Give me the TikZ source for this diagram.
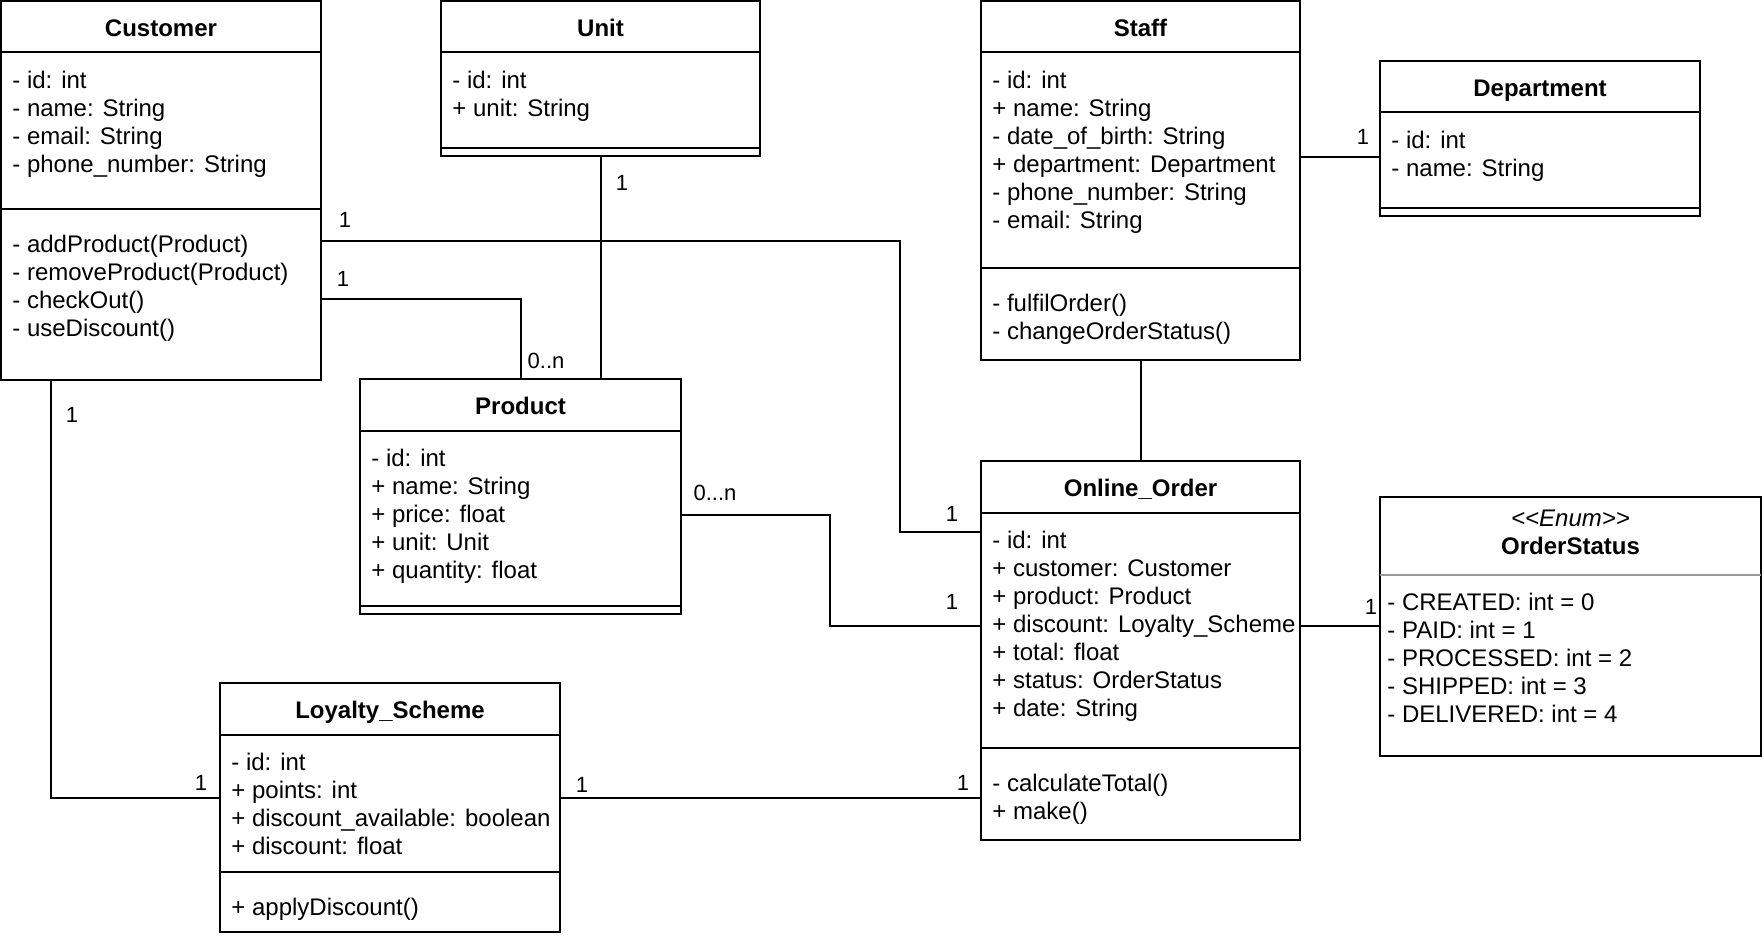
\documentclass[tikz,border=0pt]{standalone}
\usepackage{fontspec}
\setmainfont{Liberation Sans}
\usetikzlibrary{calc}

\begin{document}
\begin{tikzpicture}[
    x=0.5pt,
    y=-0.5pt,
    classbox/.style={
        rectangle,
        draw=black,
        line width=1pt,
        inner sep=0pt,
        outer sep=0pt,
        anchor=north west
    },
    sepline/.style={
        draw=black,
        line width=1pt
    },
    title/.style={
        anchor=base,
        inner sep=0pt,
        font=\fontsize{12}{14}\selectfont\bfseries
    },
    member/.style={
        anchor=base west,
        inner sep=0pt,
        font=\fontsize{12}{14}\selectfont
    },
    mult/.style={
        inner sep=0pt,
        font=\fontsize{11}{13}\selectfont
    },
    assoc/.style={
        draw=black,
        line width=1pt
    }
]
    \useasboundingbox (0,0) rectangle (1764,938);

    % class boxes
    \node [classbox, minimum width=160pt, minimum height=189.5pt] (customer) at (1,1) {};
    \node [classbox, minimum width=159.5pt, minimum height=77.5pt] (unit) at (441,1) {};
    \node [classbox, minimum width=159.5pt, minimum height=179.5pt] (staff) at (981,1) {};
    \node [classbox, minimum width=160pt, minimum height=77.5pt] (department) at (1380,61) {};
    \node [classbox, minimum width=160.5pt, minimum height=117.5pt] (product) at (360,379) {};
    \node [classbox, minimum width=159.5pt, minimum height=189.5pt] (order) at (981,461) {};
    \node [classbox, minimum width=190.5pt, minimum height=129.5pt] (status) at (1380,497) {};
    \node [classbox, minimum width=170pt, minimum height=124.5pt] (loyalty) at (220,683) {};

    % compartments
    \foreach \c/\y in {customer/51, customer/208, unit/51, unit/147, staff/51, staff/267,
                       department/51, department/147, product/52, product/227,
                       order/52, order/287, loyalty/52, loyalty/189}
        \draw [sepline] ($(\c.north west)+(0,\y)$) -- ($(\c.north east)+(0,\y)$);
    \draw [sepline, draw=black!40] ($(status.north west)+(0,78)$) -- ($(status.north east)+(0,78)$);

    % titles
    \node [title] (customer-t) at ($(customer.north)+(0,35)$) {Customer};
    \node [title] (unit-t) at ($(unit.north)+(0,35)$) {Unit};
    \node [title] (staff-t) at ($(staff.north)+(0,35)$) {Staff};
    \node [title] (department-t) at ($(department.north)+(0,35)$) {Department};
    \node [title] (product-t) at ($(product.north)+(0,35)$) {Product};
    \node [title] (order-t) at ($(order.north)+(0,35)$) {Online\_Order};
    \node [title] (loyalty-t) at ($(loyalty.north)+(0,35)$) {Loyalty\_Scheme};
    \node [title, font=\fontsize{12}{14}\selectfont\itshape] (status-s) at ($(status.north)+(0,29)$) {<\kern0pt<Enum>\kern0pt>};
    \node [title] (status-t) at ($(status.north)+(0,57)$) {OrderStatus};

    % attributes
    \foreach \s [count=\i] in {- id: int, - name: String, - email: String, - phone\_number: String}
        \node [member] (customer-a\i) at ($(customer.north west)+(11,59+28*\i)$) {\s};
    \foreach \s [count=\i] in {- id: int, + unit: String}
        \node [member] (unit-a\i) at ($(unit.north west)+(11,59+28*\i)$) {\s};
    \foreach \s [count=\i] in {- id: int, + name: String, - date\_of\_birth: String,
                               + department: Department, - phone\_number: String, - email: String}
        \node [member] (staff-a\i) at ($(staff.north west)+(11,59+28*\i)$) {\s};
    \foreach \s [count=\i] in {- id: int, - name: String}
        \node [member] (department-a\i) at ($(department.north west)+(11,59+28*\i)$) {\s};
    \foreach \s [count=\i] in {- id: int, + name: String, + price: float, + unit: Unit, + quantity: float}
        \node [member] (product-a\i) at ($(product.north west)+(11,59+28*\i)$) {\s};
    \foreach \s [count=\i] in {- id: int, + customer: Customer, + product: Product,
                               + discount: Loyalty\_Scheme, + total: float,
                               + status: OrderStatus, + date: String}
        \node [member] (order-a\i) at ($(order.north west)+(11,59+28*\i)$) {\s};
    \foreach \s [count=\i] in {- id: int, + points: int, + discount\_available: boolean, + discount: float}
        \node [member] (loyalty-a\i) at ($(loyalty.north west)+(11,59+28*\i)$) {\s};
    \foreach \s [count=\i] in {- CREATED: int = 0, - PAID: int = 1, - PROCESSED: int = 2,
                               - SHIPPED: int = 3, - DELIVERED: int = 4}
        \node [member] (status-a\i) at ($(status.north west)+(7,85+28*\i)$) {\s};

    % operations
    \foreach \s [count=\i] in {- addProduct(Product), - removeProduct(Product), - checkOut(), - useDiscount()}
        \node [member] (customer-m\i) at ($(customer.north west)+(11,223+28*\i)$) {\s};
    \foreach \s [count=\i] in {- fulfilOrder(), - changeOrderStatus()}
        \node [member] (staff-m\i) at ($(staff.north west)+(11,282+28*\i)$) {\s};
    \foreach \s [count=\i] in {- calculateTotal(), + make()}
        \node [member] (order-m\i) at ($(order.north west)+(11,302+28*\i)$) {\s};
    \foreach \s [count=\i] in {+ applyDiscount()}
        \node [member] (loyalty-m\i) at ($(loyalty.north west)+(11,204+28*\i)$) {\s};

    % associations
    \draw [assoc] ($(customer.north east)+(0,240)$) -| ($(order.north west)+(-81,71)$) -- ($(order.north west)+(0,71)$);
    \draw [assoc] ($(customer.north east)+(0,298)$) -| ($(product.north west)+(161,0)$);
    \draw [assoc] (unit.south) -- (unit.south |- product.north);
    \draw [assoc] ($(staff.north east)+(0,156)$) -- ($(department.north west)+(0,96)$);
    \draw [assoc] (staff.south) -- (order.north);
    \draw [assoc] ($(product.north east)+(0,136)$) -| ($(order.north west)+(-151,165)$) -- ($(order.north west)+(0,165)$);
    \draw [assoc] ($(order.north east)+(0,165)$) -- ($(status.north west)+(0,129)$);
    \draw [assoc] ($(customer.south west)+(50,0)$) |- ($(loyalty.north west)+(0,115)$);
    \draw [assoc] ($(loyalty.north east)+(0,115)$) -- ($(order.north west)+(0,337)$);

    % multiplicities
    \node [mult] (m1) at (345,220) {1};
    \node [mult] (m2) at (343,279) {1};
    \node [mult] (m3) at (546,361) {0..n};
    \node [mult] (m4) at (622,183) {1};
    \node [mult] (m5) at (1363,137) {1};
    \node [mult] (m6) at (952,514) {1};
    \node [mult] (m7) at (952,602) {1};
    \node [mult] (m8) at (715,493) {0...n};
    \node [mult] (m9) at (1371,607) {1};
    \node [mult] (m10) at (963,783) {1};
    \node [mult] (m11) at (582,785) {1};
    \node [mult] (m12) at (201,783) {1};
    \node [mult] (m13) at (72,415) {1};
\end{tikzpicture}
\end{document}
